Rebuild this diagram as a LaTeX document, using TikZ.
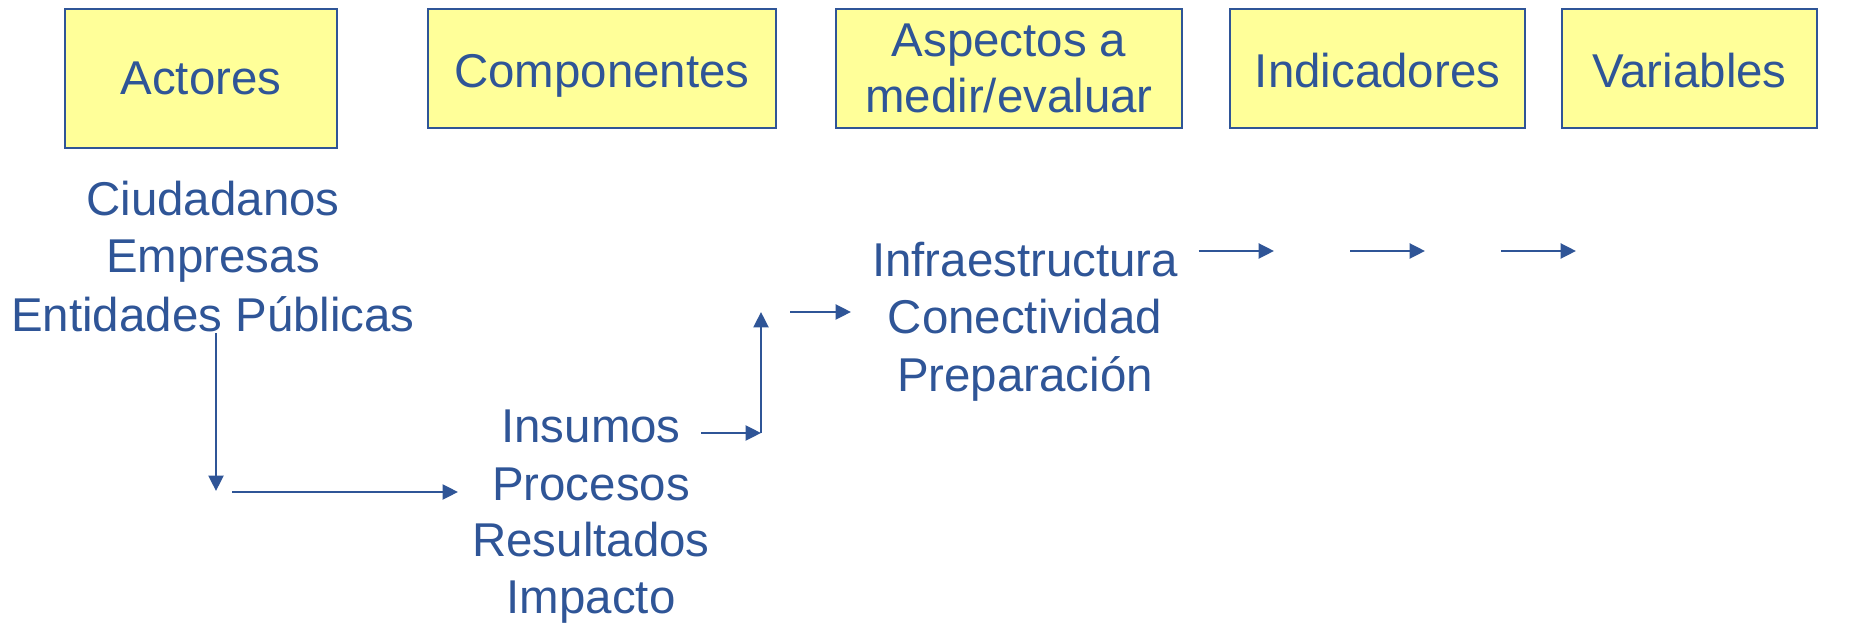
\documentclass[tikz,border=0pt]{standalone}
\usepackage{fontspec}
\setmainfont{Liberation Sans}
\usetikzlibrary{arrows.meta}

\definecolor{azul}{RGB}{47,85,151}
\definecolor{amarillo}{RGB}{255,255,153}

\begin{document}
\begin{tikzpicture}[>={Triangle[length=0.155cm,width=0.15cm]},
  caja/.style={draw=azul, line width=0.6pt, fill=amarillo, inner sep=0pt},
  txt/.style={text=azul, font=\fontsize{13.5}{16.2}\selectfont,
    inner xsep=0.2cm, inner ysep=0pt, anchor=base},
  flecha/.style={->, draw=azul, line width=0.75pt}]
  \useasboundingbox (0,0) rectangle (18.54,-6.24);

  % Cajas de cabecera
  \node[caja, minimum width=2.72cm, minimum height=1.39cm] (actores) at (2.01,-0.785) {};
  \node[caja, minimum width=3.48cm, minimum height=1.19cm] (compon) at (6.02,-0.685) {};
  \node[caja, minimum width=3.46cm, minimum height=1.19cm] (aspectos) at (10.09,-0.685) {};
  \node[caja, minimum width=2.95cm, minimum height=1.19cm] (indic) at (13.775,-0.685) {};
  \node[caja, minimum width=2.55cm, minimum height=1.19cm] (variab) at (16.895,-0.685) {};

  % Textos de cabecera
  \node[txt] (tactores) at (2.01,-0.95) {Actores};
  \node[txt] (tcompon) at (6.02,-0.873) {Componentes};
  \node[txt] (taspA) at (10.09,-0.567) {Aspectos a};
  \node[txt] (taspB) at (10.09,-1.13) {medir/evaluar};
  \node[txt] (tindic) at (13.775,-0.873) {Indicadores};
  \node[txt] (tvariab) at (16.895,-0.873) {Variables};

  % Actores
  \node[txt] (ciud) at (2.13,-2.16) {Ciudadanos};
  \node[txt] (empr) at (2.13,-2.73) {Empresas};
  \node[txt] (pub) at (2.13,-3.317) {Entidades Públicas};

  % Componentes
  \node[txt] (ins) at (5.91,-4.427) {Insumos};
  \node[txt] (proc) at (5.91,-5.00) {Procesos};
  \node[txt] (res) at (5.91,-5.567) {Resultados};
  \node[txt] (imp) at (5.91,-6.13) {Impacto};

  % Aspectos
  \node[txt] (infra) at (10.25,-2.767) {Infraestructura};
  \node[txt] (conec) at (10.25,-3.34) {Conectividad};
  \node[txt] (prep) at (10.25,-3.917) {Preparación};

  % Puntos de las flechas
  \coordinate (v1) at (2.16,-4.91);
  \coordinate (h2a) at (2.32,-4.92);
  \coordinate (h2b) at (4.58,-4.92);
  \coordinate (c4) at (7.61,-4.33);
  \coordinate (c5) at (7.61,-3.12);
  \coordinate (c6a) at (7.90,-3.12);
  \coordinate (c6b) at (8.51,-3.12);
  \coordinate (a6) at (12.74,-2.51);
  \coordinate (a7) at (13.50,-2.51);
  \coordinate (a8) at (14.25,-2.51);
  \coordinate (a9) at (15.01,-2.51);
  \coordinate (a10) at (15.76,-2.51);

  % Flechas
  \draw[flecha] (pub.south -| v1) -- (v1);
  \draw[flecha] (h2a) -- (h2b);
  \draw[flecha] (ins.east |- c4) -- (c4);
  \draw[flecha] (c4) -- (c5);
  \draw[flecha] (c6a) -- (c6b);
  \draw[flecha] (infra.east |- a6) -- (a6);
  \draw[flecha] (a7) -- (a8);
  \draw[flecha] (a9) -- (a10);
\end{tikzpicture}
\end{document}
